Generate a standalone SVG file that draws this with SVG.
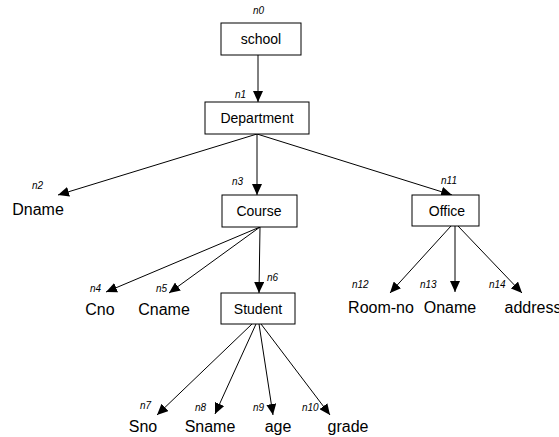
<svg xmlns="http://www.w3.org/2000/svg" width="559" height="437" viewBox="0 0 559 437">
<defs>
<marker id="ah" markerUnits="userSpaceOnUse" markerWidth="11" markerHeight="10" refX="11" refY="5" orient="auto">
<path d="M0,0 L11,5 L0,10 z" fill="#000"/>
</marker>
<style>
.box{fill:#fff;stroke:#000;stroke-width:1}
.t{font-family:"Liberation Sans",Arial,sans-serif;font-size:14px;text-anchor:middle;fill:#000}
.leaf{font-family:"Liberation Sans",Arial,sans-serif;font-size:16px;text-anchor:middle;fill:#000}
.lab{font-family:"Liberation Sans",Arial,sans-serif;font-size:10px;font-style:italic;fill:#000}
.e{stroke:#000;stroke-width:1;fill:none;marker-end:url(#ah)}
</style>
</defs>
<rect width="559" height="437" fill="#fff"/>
<g id="connectors">
<line class="e" x1="258" y1="55" x2="258" y2="102"/>
<line class="e" x1="257" y1="134" x2="58" y2="195"/>
<line class="e" x1="257" y1="134" x2="257" y2="195"/>
<line class="e" x1="257" y1="134" x2="452" y2="195"/>
<line class="e" x1="260" y1="227" x2="106" y2="292"/>
<line class="e" x1="260" y1="227" x2="169" y2="293"/>
<line class="e" x1="260" y1="227" x2="259" y2="293"/>
<line class="e" x1="252" y1="324" x2="157" y2="415"/>
<line class="e" x1="256" y1="324" x2="215" y2="414"/>
<line class="e" x1="259" y1="324" x2="273" y2="415"/>
<line class="e" x1="261" y1="324" x2="330" y2="415"/>
<line class="e" x1="451" y1="226" x2="390" y2="293"/>
<line class="e" x1="455" y1="226" x2="455" y2="292"/>
<line class="e" x1="458" y1="226" x2="522" y2="293"/>
</g>
<g id="n0"><text class="lab" x="253" y="14">n0</text><rect class="box" x="221" y="23" width="80" height="32"/><text class="t" x="261" y="44">school</text></g>
<g id="n1"><text class="lab" x="235" y="98">n1</text><rect class="box" x="205" y="102" width="104" height="32"/><text class="t" x="257" y="123">Department</text></g>
<g id="n2"><text class="lab" x="32" y="189">n2</text><text class="leaf" x="38" y="215">Dname</text></g>
<g id="n3"><text class="lab" x="232" y="185">n3</text><rect class="box" x="222" y="195" width="75" height="32"/><text class="t" x="259" y="216">Course</text></g>
<g id="n4"><text class="lab" x="90" y="292">n4</text><text class="leaf" x="100" y="315">Cno</text></g>
<g id="n5"><text class="lab" x="156" y="292">n5</text><text class="leaf" x="164" y="315">Cname</text></g>
<g id="n6"><text class="lab" x="267" y="281">n6</text><rect class="box" x="221" y="293" width="74" height="31"/><text class="t" x="258" y="314">Student</text></g>
<g id="n7"><text class="lab" x="140" y="409">n7</text><text class="leaf" x="143" y="432">Sno</text></g>
<g id="n8"><text class="lab" x="195" y="411">n8</text><text class="leaf" x="210" y="432">Sname</text></g>
<g id="n9"><text class="lab" x="253" y="411">n9</text><text class="leaf" x="278" y="432">age</text></g>
<g id="n10"><text class="lab" x="302" y="411">n10</text><text class="leaf" x="348" y="432">grade</text></g>
<g id="n11"><text class="lab" x="441" y="184">n11</text><rect class="box" x="412" y="195" width="67" height="31"/><text class="t" x="447" y="216">Office</text></g>
<g id="n12"><text class="lab" x="352" y="288">n12</text><text class="leaf" x="381" y="313">Room-no</text></g>
<g id="n13"><text class="lab" x="420" y="288">n13</text><text class="leaf" x="450" y="313">Oname</text></g>
<g id="n14"><text class="lab" x="489" y="288">n14</text><text class="leaf" x="533" y="313">address</text></g>
</svg>
